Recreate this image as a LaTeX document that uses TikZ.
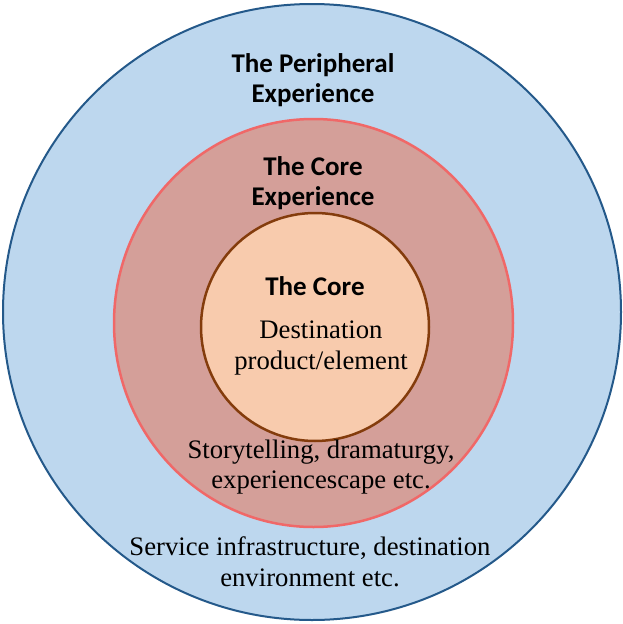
\documentclass[tikz,border=0pt]{standalone}
\usepackage{fontspec}
\setmainfont{Liberation Serif}
\newfontfamily\calfont{Carlito}
\definecolor{outerfill}{HTML}{BDD7EE}
\definecolor{outerline}{HTML}{24598A}
\definecolor{midfill}{HTML}{D49F99}
\definecolor{midline}{HTML}{F06868}
\definecolor{innerfill}{HTML}{F8CBAD}
\definecolor{innerline}{HTML}{843C0C}
\begin{document}
\begin{tikzpicture}[x=1pt,y=-1pt,
  headtext/.style={font=\calfont\bfseries\fontsize{27}{30}\selectfont, align=center, text=black, inner sep=0pt},
  bodytext/.style={font=\fontsize{26.7}{30.5}\selectfont, align=center, text=black, inner sep=0pt}]
\useasboundingbox (0,0) rectangle (622,624);
\fill[white] (0,0) rectangle (622,624);
\draw[outerline, fill=outerfill, line width=2pt] (312,312) ellipse [x radius=309, y radius=308];
\draw[midline, fill=midfill, line width=2.5pt] (313.5,323) ellipse [x radius=199.5, y radius=204];
\draw[innerline, fill=innerfill, line width=2.5pt] (315,327) circle [radius=114];
\node[headtext] (per) at (313,80) {The Peripheral\\Experience};
\node[headtext] (cexp) at (313,183) {The Core\\Experience};
\node[headtext] (core) at (315,286) {The Core};
\node[bodytext] (dest) at (321,348) {Destination\\product/element};
\node[bodytext] (story) at (321,467) {Storytelling, dramaturgy,\\experiencescape etc.};
\node[bodytext] (serv) at (310,562) {Service infrastructure, destination\\environment etc.};
\end{tikzpicture}
\end{document}
